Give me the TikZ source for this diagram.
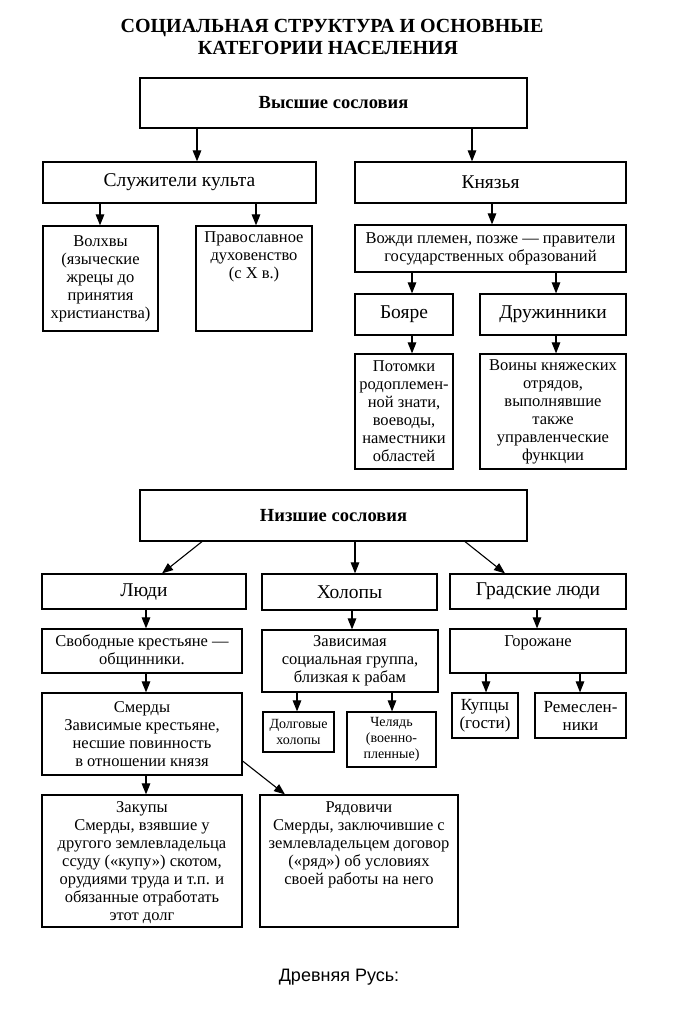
\documentclass[tikz,border=0pt]{standalone}
\usepackage{fontspec}
\setmainfont{Liberation Serif}
\newfontfamily\sansf{Liberation Sans}
\usetikzlibrary{arrows.meta}
\begin{document}
\begin{tikzpicture}[x=1pt,y=-1pt,
  box/.style={draw, line width=1.2pt, inner sep=0pt, rectangle},
  arr/.style={line width=1.1pt, -{Triangle[length=11pt,width=8.5pt]}},
  body/.style={font=\fontsize{16.5}{18}\selectfont, align=center, inner sep=0pt},
  big/.style={font=\fontsize{19.5}{22}\selectfont, align=center},
  mid/.style={font=\fontsize{17}{18}\selectfont, align=center},
  small/.style={font=\fontsize{14}{16}\selectfont, align=center},
  head/.style={font=\bfseries\fontsize{18.5}{22}\selectfont},
  ttl/.style={font=\bfseries\fontsize{20}{22}\selectfont, inner sep=0pt},
]
\useasboundingbox (0,0) rectangle (683,1024);
\fill[white] (0,0) rectangle (683,1024);

% title
\node[ttl, anchor=base] (t1) at (332,33) {СОЦИАЛЬНАЯ СТРУКТУРА И ОСНОВНЫЕ};
\node[ttl, anchor=base] (t2) at (328,55) {КАТЕГОРИИ НАСЕЛЕНИЯ};

% upper part
\node[box, head, minimum width=387, minimum height=50] (hs) at (333.5,103) {Высшие сословия};
\node[box, big, minimum width=273, minimum height=41] (sk) at (179.5,182.5) {Служители культа};
\node[box, big, minimum width=271, minimum height=41] (kn) at (490.5,182.5) {Князья};
\node[box, body, minimum width=115, minimum height=105] (vol) at (100.5,278.5) {Волхвы\\(языческие\\жрецы до\\принятия\\христианства)};
\node[box, minimum width=116, minimum height=105] (prav) at (254,278.5) {};
\node[body, anchor=north] (prav-t) at ([yshift=-6pt]prav.north) {Православное\\духовенство\\(с X в.)};
\node[box, body, minimum width=271, minimum height=47] (vozh) at (490.5,248.5) {Вожди племен, позже — правители\\государственных образований};
\node[box, big, minimum width=98, minimum height=41] (boy) at (404,314.5) {Бояре};
\node[box, big, minimum width=146, minimum height=41] (dru) at (553,314.5) {Дружинники};
\node[box, body, minimum width=98, minimum height=115] (pot) at (404,411.5) {Потомки\\родоплемен-\\ной знати,\\воеводы,\\наместники\\областей};
\node[box, body, minimum width=146, minimum height=115] (voin) at (553,411.5) {Воины княжеских\\отрядов,\\выполнявшие\\также\\управленческие\\функции};

% lower part
\node[box, head, minimum width=387, minimum height=51] (ns) at (333.5,515.5) {Низшие сословия};
\node[box, big, minimum width=204, minimum height=35] (lyu) at (144,591.5) {Люди};
\node[box, big, minimum width=175, minimum height=36] (hol) at (349.5,592) {Холопы};
\node[box, big, minimum width=176, minimum height=35] (grad) at (538,591.5) {Градские люди};
\node[box, body, minimum width=200, minimum height=44] (svob) at (142,651) {Свободные крестьяне —\\общинники.};
\node[box, body, minimum width=176, minimum height=62] (zav) at (350,661) {Зависимая\\социальная группа,\\близкая к рабам};
\node[box, minimum width=176, minimum height=44] (gor) at (538,651) {};
\node[body, anchor=north] (gor-t) at ([yshift=-7pt]gor.north) {Горожане};
\node[box, body, minimum width=200, minimum height=82] (sme) at (142,734) {Смерды\\Зависимые крестьяне,\\несшие повинность\\в отношении князя};
\node[box, small, minimum width=71, minimum height=40] (dolg) at (298.5,732) {Долговые\\холопы};
\node[box, small, minimum width=89, minimum height=55] (chel) at (391.5,739.5) {Челядь\\(военно-\\пленные)};
\node[box, mid, minimum width=66, minimum height=45] (kup) at (485,715.5) {Купцы\\(гости)};
\node[box, mid, minimum width=91, minimum height=45] (rem) at (580.5,715.5) {Ремеслен-\\ники};
\node[box, minimum width=200, minimum height=132] (zak) at (142,861) {};
\node[body, anchor=north] (zak-t) at ([yshift=-7pt]zak.north) {Закупы\\Смерды, взявшие у\\другого землевладельца\\ссуду («купу») скотом,\\орудиями труда и т.п. и\\обязанные отработать\\этот долг};
\node[box, minimum width=198, minimum height=132] (ryad) at (359,861) {};
\node[body, anchor=north] (ryad-t) at ([yshift=-7pt]ryad.north) {Рядовичи\\Смерды, заключившие с\\землевладельцем договор\\(«ряд») об условиях\\своей работы на него};

\node[font=\sansf\fontsize{18}{20}\selectfont] (cap) at (339,977) {Древняя Русь:};

% connector x positions
\coordinate (x197) at (197,0);
\coordinate (x472) at (472,0);
\coordinate (x100) at (100,0);
\coordinate (x256) at (256,0);
\coordinate (x492) at (492,0);
\coordinate (x412) at (412,0);
\coordinate (x556) at (556,0);
\coordinate (x202) at (202,0);
\coordinate (x162) at (162,0);
\coordinate (x355) at (355,0);
\coordinate (x465) at (465,0);
\coordinate (x505) at (505,0);
\coordinate (x146) at (146,0);
\coordinate (x352) at (352,0);
\coordinate (x537) at (537,0);
\coordinate (x297) at (297,0);
\coordinate (x392) at (392,0);
\coordinate (x486) at (486,0);
\coordinate (x580) at (580,0);
\coordinate (x285) at (285,0);
\coordinate (y761) at (0,761);

\draw[arr] (hs.south -| x197) -- (sk.north -| x197);
\draw[arr] (hs.south -| x472) -- (kn.north -| x472);
\draw[arr] (sk.south -| x100) -- (vol.north -| x100);
\draw[arr] (sk.south -| x256) -- (prav.north -| x256);
\draw[arr] (kn.south -| x492) -- (vozh.north -| x492);
\draw[arr] (vozh.south -| x412) -- (boy.north -| x412);
\draw[arr] (vozh.south -| x556) -- (dru.north -| x556);
\draw[arr] (boy.south -| x412) -- (pot.north -| x412);
\draw[arr] (dru.south -| x556) -- (voin.north -| x556);

\draw[arr] (ns.south -| x202) -- (lyu.north -| x162);
\draw[arr] (ns.south -| x355) -- (hol.north -| x355);
\draw[arr] (ns.south -| x465) -- (grad.north -| x505);
\draw[arr] (lyu.south -| x146) -- (svob.north -| x146);
\draw[arr] (hol.south -| x352) -- (zav.north -| x352);
\draw[arr] (grad.south -| x537) -- (gor.north -| x537);
\draw[arr] (svob.south -| x146) -- (sme.north -| x146);
\draw[arr] (zav.south -| x297) -- (dolg.north -| x297);
\draw[arr] (zav.south -| x392) -- (chel.north -| x392);
\draw[arr] (gor.south -| x486) -- (kup.north -| x486);
\draw[arr] (gor.south -| x580) -- (rem.north -| x580);
\draw[arr] (sme.south -| x146) -- (zak.north -| x146);
\draw[arr] (sme.east |- y761) -- (ryad.north -| x285);
\end{tikzpicture}
\end{document}
